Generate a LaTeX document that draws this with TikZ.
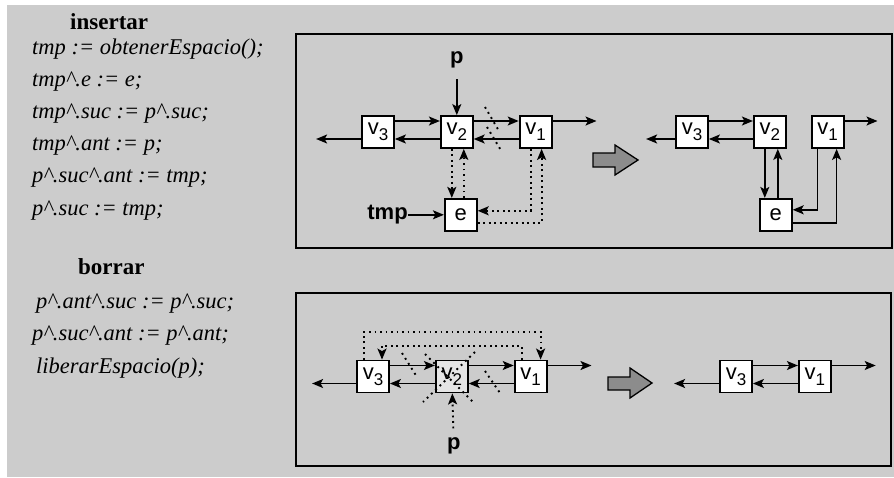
\documentclass[tikz,border=0pt]{standalone}
\usepackage{fontspec}
\setmainfont{Liberation Serif}
\setsansfont{Liberation Sans}
\usetikzlibrary{arrows.meta}
\usetikzlibrary{positioning}

\definecolor{panelgray}{gray}{0.8}
\definecolor{blockgray}{gray}{0.55}
\definecolor{deadgray}{gray}{0.9}

\newcommand{\vsub}[2]{#1\raisebox{-6pt}{\fontsize{17}{17}\selectfont #2}}
\newcommand{\ptrup}{\textasciicircum}

\tikzset{
    cell/.style={draw, fill=white, line width=1.8pt, minimum size=32pt, inner sep=0pt,
                 font=\sffamily\fontsize{22}{22}\selectfont},
    link/.style={-{Stealth[length=11pt,width=9pt,inset=2.5pt]}, line width=1.5pt},
    dotlink/.style={link, line width=1.9pt, dash pattern=on 1.9pt off 3.6pt},
    cut/.style={line width=1.9pt, dash pattern=on 1.9pt off 4pt},
    ptr/.style={font=\sffamily\bfseries\fontsize{22}{22}\selectfont, inner sep=0pt},
    code/.style={font=\itshape\fontsize{22.5}{22.5}\selectfont, text height=17pt, text depth=6pt,
                 inner sep=0pt, anchor=base west},
    head/.style={font=\bfseries\fontsize{23}{23}\selectfont, inner sep=0pt, anchor=base west},
    frame/.style={draw, line width=1.8pt},
    block/.style={draw, fill=blockgray, line width=1.3pt}
}

\begin{document}
\begin{tikzpicture}[x=1pt,y=-1pt]

                    \useasboundingbox (0,0) rectangle (894,477);
                    \fill[panelgray] (7,5) rectangle (894,477);

                    \node[head] (h_i) at (70,29) {insertar};
                    \node[code] (s_1) at (32,54) {tmp := obtenerEspacio();};
                    \node[code] (s_2) [below = 8.8pt of s_1.south west, anchor=north west] {tmp\ptrup.e := e;};
                    \node[code] (s_3) [below = 8.8pt of s_2.south west, anchor=north west] {tmp\ptrup.suc := p\ptrup.suc;};
                    \node[code] (s_4) [below = 8.8pt of s_3.south west, anchor=north west] {tmp\ptrup.ant := p;};
                    \node[code] (s_5) [below = 8.8pt of s_4.south west, anchor=north west] {p\ptrup.suc\ptrup.ant := tmp;};
                    \node[code] (s_6) [below = 8.8pt of s_5.south west, anchor=north west] {p\ptrup.suc := tmp;};

                    \node[head] (h_b) at (78,274) {borrar};
                    \node[code] (d_1) at (36,308) {p\ptrup.ant\ptrup.suc := p\ptrup.suc;};
                    \node[code] (d_2) [below = 9.5pt of d_1.south west, anchor=north west, xshift=-4pt] {p\ptrup.suc\ptrup.ant := p\ptrup.ant;};
                    \node[code] (d_3) [below = 9.5pt of d_2.south west, anchor=north west, xshift=4pt] {liberarEspacio(p);};

                    \draw[frame] (296,34) rectangle (892,248);
                    \draw[frame] (296,293) rectangle (891,466);

                    \node[cell] (i_3) at (378,132) {\vsub{v}{3}};
                    \node[cell] (i_2) [right = 45pt of i_3] {\vsub{v}{2}};
                    \node[cell] (i_1) [right = 45pt of i_2] {\vsub{v}{1}};
                    \node[cell] (i_e) [below = 49pt of i_2, xshift=4pt] {e};
                    \node[ptr] (i_p) [above = 47pt of i_2] {p};
                    \node[ptr] (i_t) [left = 36pt of i_e] {tmp};
                    \coordinate[below left = 7pt and 45pt of i_3.west] (i_l);
                    \coordinate[above right = 11pt and 44pt of i_1.east] (i_r);

                    \draw[link] ([yshift=11pt]i_3.east) -- ([yshift=11pt]i_2.west);
                    \draw[link] ([yshift=-7pt]i_2.west) -- ([yshift=-7pt]i_3.east);
                    \draw[link] ([yshift=11pt]i_2.east) -- ([yshift=11pt]i_1.west);
                    \draw[link] ([yshift=-7pt]i_1.west) -- ([yshift=-7pt]i_2.east);
                    \draw[link] ([yshift=-7pt]i_3.west) -- (i_l);
                    \draw[link] ([yshift=11pt]i_1.east) -- (i_r);
                    \draw[link, shorten <=11pt] (i_p) -- (i_2);
                    \draw[link] (i_t) -- (i_e);
                    \draw[dotlink] ([xshift=-5pt]i_2.south) -- ([xshift=-5pt]i_2.south |- i_e.north);
                    \draw[dotlink] ([xshift=7pt]i_2.south |- i_e.north) -- ([xshift=7pt]i_2.south);
                    \draw[dotlink] ([xshift=-5pt]i_1.south) |- ([yshift=4pt]i_e.east);
                    \draw[dotlink] ([yshift=-8pt]i_e.east) -| ([xshift=6pt]i_1.south);
                    \draw[cut] (485,107) -- (499,131);
                    \draw[cut] (487,127) -- (502,152);

                    \draw[block] (593,153) -- (615,153) -- (615,145) -- (638,160) -- (615,175) -- (615,167) -- (593,167) -- cycle;

                    \node[cell] (j_3) at (692,132) {\vsub{v}{3}};
                    \node[cell] (j_2) [right = 44pt of j_3] {\vsub{v}{2}};
                    \node[cell] (j_1) [right = 24pt of j_2] {\vsub{v}{1}};
                    \node[cell] (j_e) [below = 49pt of j_2, xshift=6pt] {e};
                    \coordinate[below left = 7pt and 29pt of j_3.west] (j_l);
                    \coordinate[above right = 11pt and 33pt of j_1.east] (j_r);

                    \draw[link] ([yshift=11pt]j_3.east) -- ([yshift=11pt]j_2.west);
                    \draw[link] ([yshift=-7pt]j_2.west) -- ([yshift=-7pt]j_3.east);
                    \draw[link] ([yshift=-7pt]j_3.west) -- (j_l);
                    \draw[link] ([yshift=11pt]j_1.east) -- (j_r);
                    \draw[link] ([xshift=-5pt]j_2.south) -- ([xshift=-5pt]j_2.south |- j_e.north);
                    \draw[link] ([xshift=8pt]j_2.south |- j_e.north) -- ([xshift=8pt]j_2.south);
                    \draw[link] ([xshift=-10pt]j_1.south) |- ([yshift=5pt]j_e.east);
                    \draw[link] ([yshift=-8pt]j_e.east) -| ([xshift=9pt]j_1.south);

                    \node[cell] (b_3) at (373,376.5) {\vsub{v}{3}};
                    \node[cell, fill=deadgray] (b_2) [right = 45pt of b_3] {\vsub{v}{2}};
                    \node[cell] (b_1) [right = 45pt of b_2] {\vsub{v}{1}};
                    \node[ptr] (b_p) [below = 44pt of b_2, xshift=2pt] {p};
                    \coordinate[below left = 7pt and 44pt of b_3.west] (b_l);
                    \coordinate[above right = 11pt and 44pt of b_1.east] (b_r);

                    \draw[link] ([yshift=11pt]b_3.east) -- ([yshift=11pt]b_2.west);
                    \draw[link] ([yshift=-7pt]b_2.west) -- ([yshift=-7pt]b_3.east);
                    \draw[link] ([yshift=11pt]b_2.east) -- ([yshift=11pt]b_1.west);
                    \draw[link] ([yshift=-7pt]b_1.west) -- ([yshift=-7pt]b_2.east);
                    \draw[link] ([yshift=-7pt]b_3.west) -- (b_l);
                    \draw[link] ([yshift=11pt]b_1.east) -- (b_r);
                    \draw[dotlink] ([xshift=-9pt]b_3.north) -- ([xshift=-9pt,yshift=28pt]b_3.north) -| ([xshift=10pt]b_1.north);
                    \draw[dotlink] ([xshift=-9pt]b_1.north) -- ([xshift=-9pt,yshift=14pt]b_1.north) -| ([xshift=9pt]b_3.north);
                    \draw[dotlink, shorten <=9pt] (b_p) -- (b_2);
                    \draw[cut] (402,353) -- (417,377);
                    \draw[cut] (425,354) -- (473,402);
                    \draw[cut] (475,352) -- (423,402);
                    \draw[cut] (485,371) -- (500,393);

                    \draw[block] (608,377) -- (630,377) -- (630,368) -- (652,383) -- (630,398) -- (630,390) -- (608,390) -- cycle;

                    \node[cell] (c_3) at (736,376.5) {\vsub{v}{3}};
                    \node[cell] (c_1) [right = 45pt of c_3] {\vsub{v}{1}};
                    \coordinate[below left = 7pt and 45pt of c_3.west] (c_l);
                    \coordinate[above right = 11pt and 44pt of c_1.east] (c_r);

                    \draw[link] ([yshift=11pt]c_3.east) -- ([yshift=11pt]c_1.west);
                    \draw[link] ([yshift=-7pt]c_1.west) -- ([yshift=-7pt]c_3.east);
                    \draw[link] ([yshift=-7pt]c_3.west) -- (c_l);
                    \draw[link] ([yshift=11pt]c_1.east) -- (c_r);

                \end{tikzpicture}
\end{document}
